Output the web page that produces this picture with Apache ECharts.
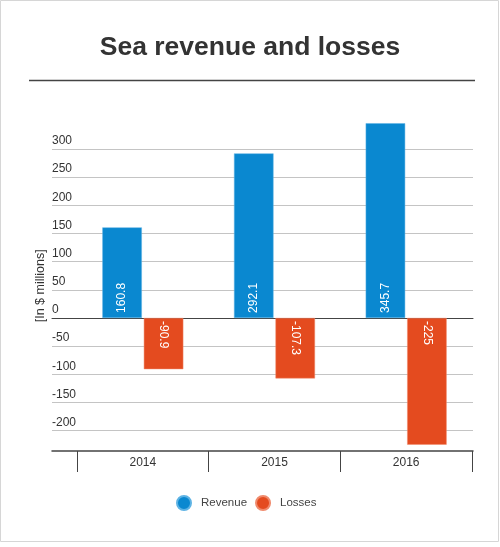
<!DOCTYPE html>
<html>
<head>
<meta charset="utf-8">
<script src="https://cdn.jsdelivr.net/npm/echarts@6/dist/echarts.min.js"></script>
<style>
html,body{margin:0;padding:0;background:#fff;}
#chart{width:500px;height:547px;}
</style>
</head>
<body>
<div id="chart"></div>
<script>
var titleText = 'Sea revenue and losses';
var years = ['2014', '2015', '2016'];
var revenue = [160.8, 292.1, 345.7];
var losses = [-90.9, -107.3, -225];
var seriesNames = ['Revenue', 'Losses'];
var yAxisName = '[In $ millions]';

var FONT = 'Liberation Sans, Arial, sans-serif';
var chart = echarts.init(document.getElementById('chart'), null, {renderer: 'canvas'});

var plotTop = 120.8, plotHeight = 338;
var yMin = -250, yMax = 350;

chart.setOption({
  animation: false,
  textStyle: {fontFamily: FONT},
  title: {
    text: titleText,
    left: 'center',
    top: 29,
    textStyle: {fontSize: 26.5, fontWeight: 'bold', color: '#333', fontFamily: FONT}
  },
  graphic: [
    {type: 'rect', shape: {x: 0.5, y: 0.5, width: 498, height: 541}, style: {fill: 'none', stroke: '#d6d6d6', lineWidth: 1}, silent: true},
    {type: 'line', shape: {x1: 29, y1: 80.5, x2: 475, y2: 80.5}, style: {stroke: '#444', lineWidth: 1.5}, silent: true}
  ],
  legend: {
    data: seriesNames,
    top: 495,
    left: 176,
    padding: 0,
    icon: 'circle',
    itemWidth: 14,
    itemHeight: 14,
    itemGap: 8,
    textStyle: {fontSize: 11.5, color: '#444', fontFamily: FONT, padding: [0, 0, 0, 5]}
  },
  grid: [
    {left: 52, right: 27, top: plotTop, height: plotHeight},
    {left: 77, right: 28, top: plotTop, height: plotHeight},
    {left: 52, right: 27, top: 429, height: 22},
    {left: 77, right: 28, top: 429, height: 22}
  ],
  xAxis: [
    {gridIndex: 0, type: 'category', data: years, axisLine: {show: true, onZero: true, lineStyle: {color: '#444', width: 1}}, axisTick: {show: false}, axisLabel: {show: false}, splitLine: {show: false}},
    {gridIndex: 1, type: 'category', data: years, axisLine: {show: false}, axisTick: {show: false}, axisLabel: {show: false}, splitLine: {show: false}},
    {gridIndex: 2, type: 'category', data: years, position: 'bottom', axisLine: {show: true, onZero: false, lineStyle: {color: '#444', width: 1.5}}, axisTick: {show: false}, axisLabel: {show: false}, splitLine: {show: false}},
    {gridIndex: 3, type: 'category', data: years, position: 'bottom', axisLine: {show: false}, axisTick: {show: true, length: 21, alignWithLabel: false, lineStyle: {color: '#444', width: 1}}, axisLabel: {show: true, margin: 6, fontSize: 12, color: '#333', fontFamily: FONT}, splitLine: {show: false}}
  ],
  yAxis: [
    {gridIndex: 0, type: 'value', min: yMin, max: yMax, interval: 50,
     name: yAxisName, nameLocation: 'middle', nameGap: 5, nameRotate: 90, nameMoveOverlap: false,
     nameTextStyle: {fontSize: 12.5, color: '#333', fontFamily: FONT, padding: [0, 0, 0, 8]},
     axisLine: {show: false}, axisTick: {show: false},
     axisLabel: {inside: true, showMinLabel: false, showMaxLabel: false, verticalAlign: 'bottom', align: 'left', margin: 0, padding: [0, 0, 2, 0], fontSize: 12, color: '#333', fontFamily: FONT},
     splitLine: {show: true, showMinLine: false, showMaxLine: false, lineStyle: {color: '#c4c4c4', width: 1}}},
    {gridIndex: 1, type: 'value', min: yMin, max: yMax, interval: 50, show: false, splitLine: {show: false}},
    {gridIndex: 2, type: 'value', show: false, splitLine: {show: false}},
    {gridIndex: 3, type: 'value', show: false, splitLine: {show: false}}
  ],
  series: [
    {
      name: seriesNames[0], type: 'bar', xAxisIndex: 1, yAxisIndex: 1, data: revenue,
      barWidth: '30%', barGap: '5%',
      itemStyle: {color: '#0a88d0', borderColor: '#5eb3e4', borderWidth: 0.5},
      label: {show: true, position: 'insideBottom', rotate: 90, align: 'left', verticalAlign: 'middle', distance: 5, color: '#fff', fontSize: 12, fontFamily: FONT}
    },
    {
      name: seriesNames[1], type: 'bar', xAxisIndex: 1, yAxisIndex: 1, data: losses,
      barWidth: '30%', barGap: '5%',
      itemStyle: {color: '#e44b1f', borderColor: '#f08a6c', borderWidth: 0.5},
      label: {show: true, position: 'insideTop', rotate: -90, align: 'left', verticalAlign: 'middle', distance: 3, color: '#fff', fontSize: 12, fontFamily: FONT}
    }
  ]
});
</script>
</body>
</html>
